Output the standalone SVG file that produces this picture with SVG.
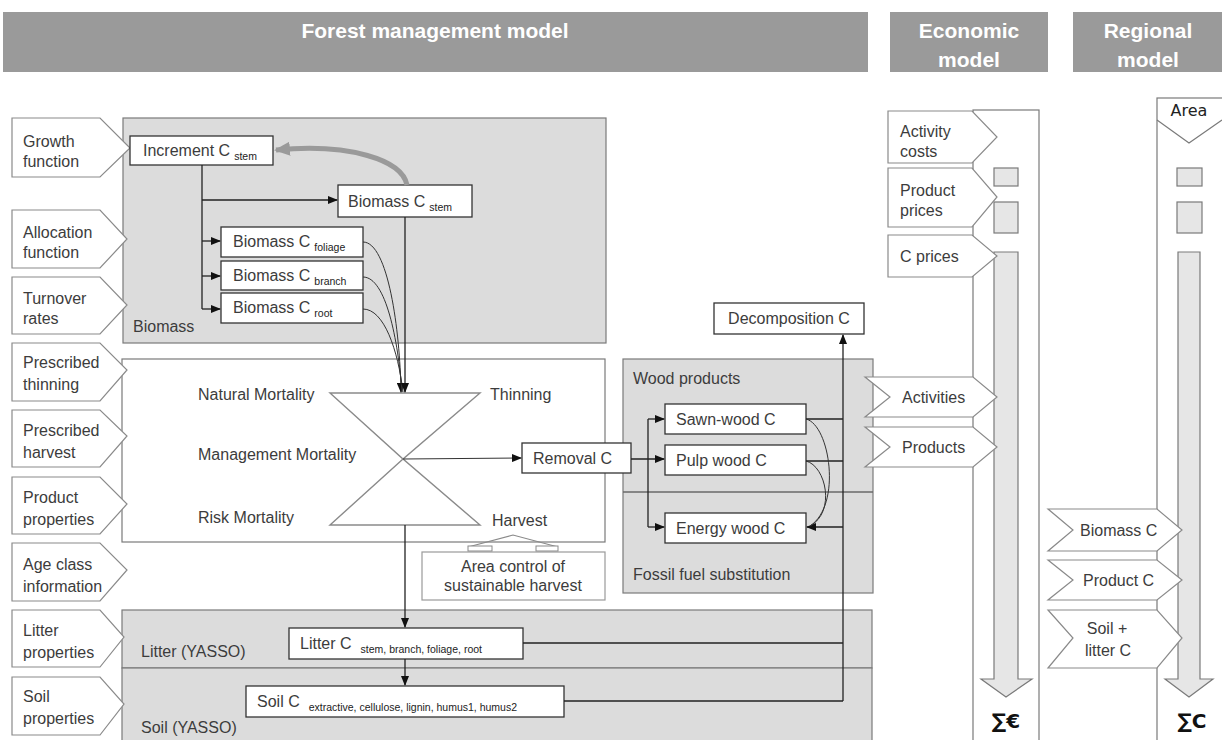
<svg xmlns="http://www.w3.org/2000/svg" width="1222" height="740" viewBox="0 0 1222 740">
<defs>
<style>
text{font-family:"Liberation Sans",Arial,sans-serif;fill:#3c3c3c;font-size:16px}
.hdr{fill:#9a9a9a}
.ht{fill:#ffffff;font-weight:bold;font-size:21px;text-anchor:middle}
.inp{fill:#ffffff;stroke:#8a8a8a;stroke-width:1.2}
.reg{fill:#dcdcdc;stroke:#7a7a7a;stroke-width:1.2}
.wbox{fill:#ffffff;stroke:#7a7a7a;stroke-width:1.2}
.box{fill:#ffffff;stroke:#333;stroke-width:1.3}
.sub{font-size:10.5px;fill:#222}
.ln{fill:none;stroke:#222;stroke-width:1.3}
.thin{fill:none;stroke:#333;stroke-width:1}
.gl{fill:none;stroke:#8a8a8a;stroke-width:1.4}
.sq{fill:#e6e6e6;stroke:#7a7a7a;stroke-width:1.2}
.mid{text-anchor:middle}
.sig{font-family:"DejaVu Sans",sans-serif;font-size:20px;font-weight:bold;fill:#111;text-anchor:middle}
</style>
<marker id="ar" markerWidth="10" markerHeight="8" refX="9" refY="4" orient="auto" markerUnits="userSpaceOnUse">
<path d="M0,0 L10,4 L0,8 Z" fill="#111"/>
</marker>
<marker id="gar" markerWidth="16" markerHeight="14" refX="14" refY="7" orient="auto" markerUnits="userSpaceOnUse">
<path d="M0,0 L16,7 L0,14 Z" fill="#9a9a9a"/>
</marker>
</defs>

<!-- headers -->
<g id="header-forest">
<rect class="hdr" x="3" y="12" width="865" height="60"/>
<text class="ht" x="435" y="38">Forest management model</text>
</g>
<g id="header-economic">
<rect class="hdr" x="890" y="12" width="158" height="60"/>
<text class="ht" x="969" y="38">Economic</text>
<text class="ht" x="969" y="67">model</text>
</g>
<g id="header-regional">
<rect class="hdr" x="1073" y="12" width="149" height="60"/>
<text class="ht" x="1148" y="38">Regional</text>
<text class="ht" x="1148" y="67">model</text>
</g>

<!-- regions -->
<g id="biomass-region">
<rect class="reg" x="123" y="118" width="483" height="225"/>
<text x="133" y="332">Biomass</text>
</g>
<g id="mortality-region">
<rect class="wbox" x="122" y="359" width="483" height="183"/>
<text x="198" y="400">Natural Mortality</text>
<text x="490" y="400">Thinning</text>
<text x="198" y="460">Management Mortality</text>
<text x="198" y="523">Risk Mortality</text>
<text x="492" y="526">Harvest</text>
</g>
<g id="hourglass">
<path class="gl" d="M330,393 L480,393 L403,459 Z" fill="#fff"/>
<path class="gl" d="M403,459 L330,525 L480,525 Z" fill="#fff"/>
</g>
<g id="wood-products-region">
<rect class="reg" x="623" y="359" width="250" height="234"/>
<line x1="623" y1="492" x2="873" y2="492" stroke="#6a6a6a" stroke-width="1.4"/>
<text x="633" y="384">Wood products</text>
<text x="633" y="580">Fossil fuel substitution</text>
</g>
<g id="litter-region">
<rect class="reg" x="122" y="610" width="750" height="58"/>
<text x="141" y="657">Litter (YASSO)</text>
</g>
<g id="soil-region">
<rect class="reg" x="122" y="668" width="750" height="80"/>
<text x="141" y="733">Soil (YASSO)</text>
</g>

<!-- economic / regional columns -->
<g id="economic-column">
<rect x="973" y="110" width="66" height="640" fill="#fff" stroke="#7a7a7a" stroke-width="1.2"/>
<rect class="sq" x="994" y="168" width="24" height="18"/>
<rect class="sq" x="994" y="202" width="24" height="31"/>
<polygon class="sq" points="994,252 1018,252 1018,679 1032,679 1006,697 981,679 994,679"/>
<text x="1006" y="728" class="sig">∑€</text>
</g>
<g id="regional-column">
<rect x="1157" y="98" width="70" height="652" fill="#fff" stroke="#7a7a7a" stroke-width="1.2"/>
<rect class="sq" x="1177" y="168" width="25" height="18"/>
<rect class="sq" x="1177" y="202" width="25" height="31"/>
<polygon class="sq" points="1178,252 1200,252 1200,679 1213,679 1189,697 1165,679 1178,679"/>
<text x="1192" y="728" class="sig">∑C</text>
</g>
<g id="area">
<polyline points="1157,120 1189,143 1222,120" fill="none" stroke="#7a7a7a" stroke-width="1.2"/>
<text x="1189" y="116" class="mid" style="font-family:'DejaVu Sans',sans-serif;font-size:16px;fill:#222">Area</text>
</g>

<!-- left inputs -->
<g id="in-growth"><polygon class="inp" points="12,118 100,118 130,148 100,177 12,177"/><text x="23" y="147">Growth</text><text x="23" y="167">function</text></g>
<g id="in-allocation"><polygon class="inp" points="12,210 100,210 127,239 100,268 12,268"/><text x="23" y="238">Allocation</text><text x="23" y="258">function</text></g>
<g id="in-turnover"><polygon class="inp" points="12,277 100,277 127,305 100,334 12,334"/><text x="23" y="304">Turnover</text><text x="23" y="324">rates</text></g>
<g id="in-thinning"><polygon class="inp" points="12,343 100,343 127,370 100,401 12,401"/><text x="23" y="368">Prescribed</text><text x="23" y="390">thinning</text></g>
<g id="in-harvest"><polygon class="inp" points="12,410 100,410 127,436 100,467 12,467"/><text x="23" y="436">Prescribed</text><text x="23" y="458">harvest</text></g>
<g id="in-product"><polygon class="inp" points="12,477 100,477 127,504 100,534 12,534"/><text x="23" y="503">Product</text><text x="23" y="525">properties</text></g>
<g id="in-age"><polygon class="inp" points="12,543 100,543 127,570 100,601 12,601"/><text x="23" y="570">Age class</text><text x="23" y="592">information</text></g>
<g id="in-litter"><polygon class="inp" points="12,610 100,610 124,637 100,667 12,667"/><text x="23" y="636">Litter</text><text x="23" y="658">properties</text></g>
<g id="in-soil"><polygon class="inp" points="12,677 100,677 124,704 100,735 12,735"/><text x="23" y="702">Soil</text><text x="23" y="724">properties</text></g>

<!-- economic inputs -->
<g id="in-activity-costs"><polygon class="inp" points="888,111 972,111 997,137 972,163 888,163"/><text x="900" y="137">Activity</text><text x="900" y="157">costs</text></g>
<g id="in-product-prices"><polygon class="inp" points="888,168 972,168 997,197 972,227 888,227"/><text x="900" y="196">Product</text><text x="900" y="216">prices</text></g>
<g id="in-c-prices"><polygon class="inp" points="888,235 972,235 997,256 972,277 888,277"/><text x="900" y="262">C prices</text></g>
<g id="out-activities"><polygon class="inp" points="865,377 973,377 997,397 973,417 865,417 890,397"/><text x="902" y="403">Activities</text></g>
<g id="out-products"><polygon class="inp" points="865,427 973,427 997,447 973,467 865,467 890,447"/><text x="902" y="453">Products</text></g>

<!-- regional inputs -->
<g id="out-biomass-c"><polygon class="inp" points="1048,509 1157,509 1182,530 1157,551 1048,551 1073,530"/><text x="1080" y="536">Biomass C</text></g>
<g id="out-product-c"><polygon class="inp" points="1048,560 1157,560 1182,580 1157,600 1048,600 1073,580"/><text x="1083" y="586">Product C</text></g>
<g id="out-soil-litter-c"><polygon class="inp" points="1048,610 1157,610 1182,638 1157,668 1048,668 1073,638"/><text x="1107" y="634" class="mid">Soil +</text><text x="1108" y="656" class="mid">litter C</text></g>

<!-- nodes -->
<g id="increment-c"><rect class="box" x="130" y="136" width="143" height="29"/><text x="143" y="156">Increment C<tspan class="sub" dx="4" dy="4">stem</tspan></text></g>
<g id="biomass-c-stem"><rect class="box" x="338" y="185" width="134" height="32"/><text x="348" y="207">Biomass C<tspan class="sub" dx="4" dy="4">stem</tspan></text></g>
<g id="biomass-c-foliage"><rect class="box" x="221" y="227" width="142" height="30"/><text x="233" y="247">Biomass C<tspan class="sub" dx="4" dy="4">foliage</tspan></text></g>
<g id="biomass-c-branch"><rect class="box" x="221" y="261" width="142" height="29"/><text x="233" y="281">Biomass C<tspan class="sub" dx="4" dy="4">branch</tspan></text></g>
<g id="biomass-c-root"><rect class="box" x="221" y="293" width="142" height="30"/><text x="233" y="313">Biomass C<tspan class="sub" dx="4" dy="4">root</tspan></text></g>
<g id="removal-c"><rect class="box" x="522" y="443" width="109" height="30"/><text x="533" y="464">Removal C</text></g>
<g id="area-control">
<rect x="422" y="552" width="183" height="48" fill="#fff" stroke="#9a9a9a" stroke-width="1.2"/>
<text x="513" y="572" class="mid" font-size="15">Area control of</text>
<text x="513" y="591" class="mid" font-size="15">sustainable harvest</text>
<polyline points="468,547 513,535 558,547" fill="none" stroke="#8a8a8a" stroke-width="1.2"/>
<rect x="468" y="546" width="24" height="5" fill="#fff" stroke="#8a8a8a" stroke-width="1"/>
<rect x="536" y="546" width="22" height="5" fill="#fff" stroke="#8a8a8a" stroke-width="1"/>
</g>
<g id="sawn-wood-c"><rect class="box" x="665" y="404" width="141" height="30"/><text x="676" y="425">Sawn-wood C</text></g>
<g id="pulp-wood-c"><rect class="box" x="665" y="445" width="141" height="30"/><text x="676" y="466">Pulp wood C</text></g>
<g id="energy-wood-c"><rect class="box" x="665" y="513" width="141" height="30"/><text x="676" y="534">Energy wood C</text></g>
<g id="decomposition-c"><rect class="box" x="714" y="303" width="150" height="31"/><text x="789" y="324" class="mid">Decomposition C</text></g>
<g id="litter-c"><rect class="box" x="289" y="628" width="234" height="31"/><text x="300" y="649">Litter C<tspan class="sub" dx="9" dy="4">stem, branch, foliage, root</tspan></text></g>
<g id="soil-c"><rect class="box" x="246" y="686" width="318" height="31"/><text x="257" y="707">Soil  C<tspan class="sub" dx="9" dy="4">extractive, cellulose, lignin, humus1, humus2</tspan></text></g>

<!-- connectors -->
<g id="connectors">
<path d="M407,185 C402,160 350,143 276,150" fill="none" stroke="#9a9a9a" stroke-width="5" marker-end="url(#gar)"/>
<line class="ln" x1="202" y1="165" x2="202" y2="309"/>
<line class="ln" x1="202" y1="200" x2="337" y2="200" marker-end="url(#ar)"/>
<line class="ln" x1="202" y1="241" x2="220" y2="241" marker-end="url(#ar)"/>
<line class="ln" x1="202" y1="276" x2="220" y2="276" marker-end="url(#ar)"/>
<line class="ln" x1="202" y1="309" x2="220" y2="309" marker-end="url(#ar)"/>
<path class="thin" d="M363,242 C388,242 400,330 401,392" marker-end="url(#ar)"/>
<path class="thin" d="M363,277 C386,277 398,340 402,392"/>
<path class="thin" d="M363,309 C384,309 398,350 403,392"/>
<line class="ln" x1="405" y1="217" x2="405" y2="392" marker-end="url(#ar)"/>
<line class="thin" x1="403" y1="459" x2="521" y2="458" marker-end="url(#ar)"/>
<line class="ln" x1="405" y1="525" x2="405" y2="627" marker-end="url(#ar)"/>
<line class="ln" x1="405" y1="659" x2="405" y2="685" marker-end="url(#ar)"/>
<line class="ln" x1="631" y1="459" x2="664" y2="459" marker-end="url(#ar)"/>
<line class="ln" x1="648" y1="419" x2="648" y2="527"/>
<line class="ln" x1="648" y1="419" x2="664" y2="419" marker-end="url(#ar)"/>
<line class="ln" x1="648" y1="527" x2="664" y2="527" marker-end="url(#ar)"/>
<line class="ln" x1="806" y1="419" x2="843" y2="419"/>
<line class="ln" x1="806" y1="461" x2="843" y2="461"/>
<line class="ln" x1="843" y1="527" x2="807" y2="527" marker-end="url(#ar)"/>
<path class="thin" d="M806,419 C830,425 842,505 810,526"/>
<path class="thin" d="M806,461 C826,466 836,512 810,526"/>
<line class="ln" x1="523" y1="643" x2="843" y2="643"/>
<line class="ln" x1="564" y1="701" x2="843" y2="701"/>
<line class="ln" x1="843" y1="701" x2="843" y2="335" marker-end="url(#ar)"/>
</g>
</svg>
